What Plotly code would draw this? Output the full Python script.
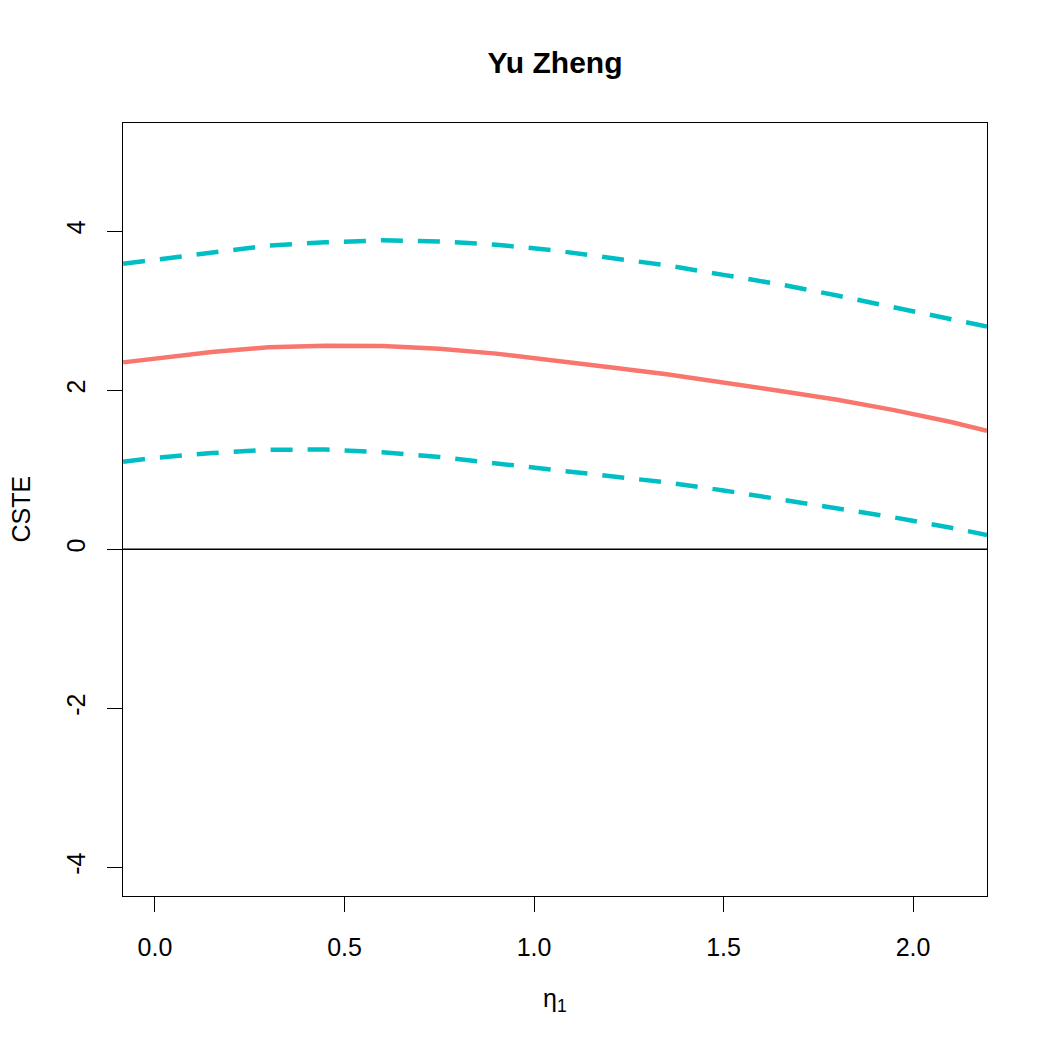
import plotly.graph_objects as go

# data
eta = [-0.084, 0.0, 0.15, 0.3, 0.45, 0.6, 0.75, 0.9, 1.05, 1.2, 1.35, 1.5, 1.65, 1.8, 1.95, 2.1, 2.195]
cste = [2.35, 2.40, 2.48, 2.54, 2.56, 2.555, 2.52, 2.46, 2.38, 2.29, 2.20, 2.10, 1.99, 1.88, 1.75, 1.60, 1.49]
upper = [3.59, 3.64, 3.73, 3.82, 3.86, 3.885, 3.87, 3.83, 3.76, 3.67, 3.57, 3.45, 3.33, 3.19, 3.04, 2.90, 2.80]
lower = [1.10, 1.15, 1.21, 1.25, 1.255, 1.22, 1.16, 1.08, 1.00, 0.92, 0.84, 0.74, 0.63, 0.51, 0.40, 0.27, 0.18]

x_ticks = [0.0, 0.5, 1.0, 1.5, 2.0]
x_tick_labels = ["0.0", "0.5", "1.0", "1.5", "2.0"]
y_ticks = [-4, -2, 0, 2, 4]
y_tick_labels = ["-4", "-2", "0", "2", "4"]

RED = "#F8766D"
CYAN = "#00BFC4"
FONT = "Liberation Sans, Arial, sans-serif"

fig = go.Figure()
fig.add_hline(y=0, line=dict(color="black", width=1.3))
fig.add_trace(go.Scatter(x=eta, y=upper, mode="lines",
                         line=dict(color=CYAN, width=4.5, dash="22px,15px"), showlegend=False))
fig.add_trace(go.Scatter(x=eta, y=lower, mode="lines",
                         line=dict(color=CYAN, width=4.5, dash="22px,15px"), showlegend=False))
fig.add_trace(go.Scatter(x=eta, y=cste, mode="lines",
                         line=dict(color=RED, width=4.5), showlegend=False))

fig.update_layout(
    width=1050, height=1050,
    margin=dict(l=123, r=63, t=123, b=154),
    paper_bgcolor="white", plot_bgcolor="white",
    font=dict(family=FONT, size=25, color="black"),
    title=dict(text="<b>Yu Zheng</b>", x=(123 + 987) / 2 / 1050, xanchor="center",
               y=1 - 62 / 1050, yanchor="middle", font=dict(size=30, family=FONT, color="black")),
    showlegend=False,
)
fig.update_xaxes(range=[-0.0844, 2.195], tickvals=x_ticks, ticktext=x_tick_labels,
                 ticks="outside", ticklen=15, tickwidth=1.3, tickcolor="black",
                 showline=True, linecolor="black", linewidth=1.3, mirror=True,
                 showgrid=False, zeroline=False, ticklabelstandoff=14,
                 tickfont=dict(size=25, family=FONT, color="black"))
fig.update_yaxes(range=[-4.36, 5.36], tickvals=y_ticks, ticktext=y_tick_labels,
                 ticks="outside", ticklen=15, tickwidth=1.3, tickcolor="black",
                 showline=True, linecolor="black", linewidth=1.3, mirror=True,
                 showgrid=False, zeroline=False, tickangle=-90, ticklabelstandoff=12,
                 tickfont=dict(size=25, family=FONT, color="black"))

fig.add_annotation(text="η<sub>1</sub>", xref="paper", yref="paper", x=0.5, y=-(1000 - 896) / (896 - 123),
                   showarrow=False, xanchor="center", yanchor="middle",
                   font=dict(size=25, family=FONT, color="black"))
fig.add_annotation(text="CSTE", xref="paper", yref="paper", x=-(123 - 20) / (987 - 123), y=0.5,
                   showarrow=False, xanchor="center", yanchor="middle", textangle=-90,
                   font=dict(size=25, family=FONT, color="black"))

fig.write_html("out.html")
